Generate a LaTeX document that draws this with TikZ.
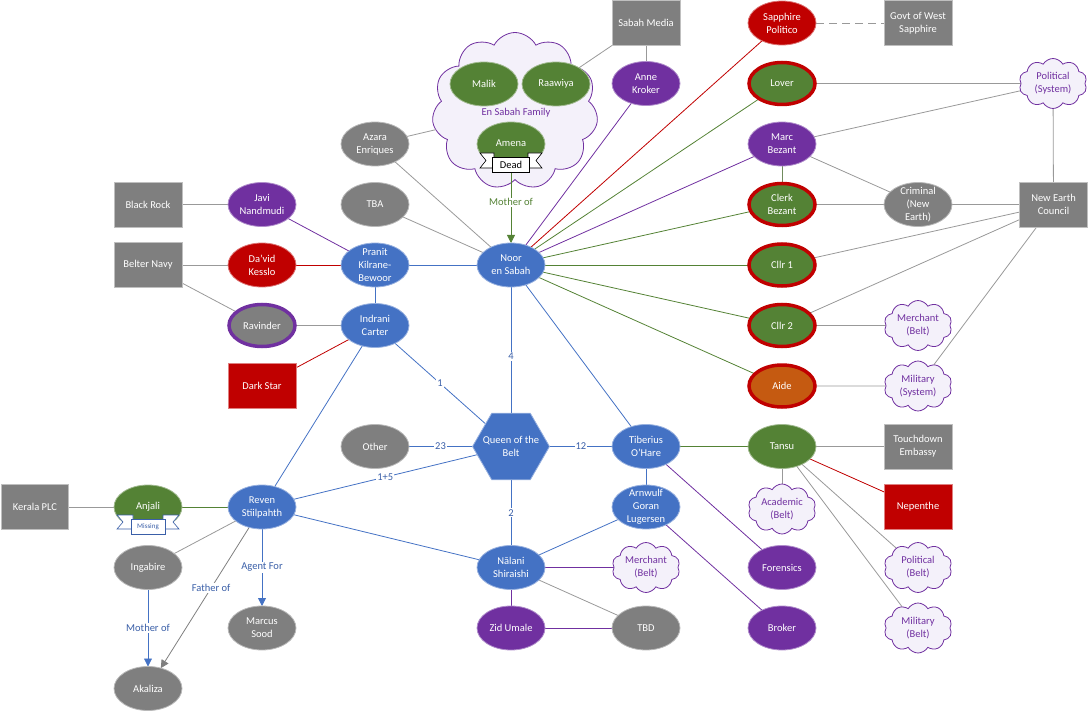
\documentclass[tikz,border=0pt]{standalone}
\usepackage{fontspec}
\setmainfont{Carlito}
\usetikzlibrary{shapes.geometric,shapes.symbols,arrows.meta}
\pgfdeclarelayer{cl}
\pgfdeclarelayer{bg}
\pgfsetlayers{cl,bg,main}
\definecolor{cblue}{HTML}{4472C4}
\definecolor{cgreen}{HTML}{548235}
\definecolor{cpurple}{HTML}{7030A0}
\definecolor{cred}{HTML}{C00000}
\definecolor{cgrey}{HTML}{7F7F7F}
\definecolor{corange}{HTML}{C55A11}
\definecolor{cedge}{HTML}{999999}
\definecolor{clab}{HTML}{3A5FA8}
\definecolor{cfill}{HTML}{F4F1FA}
\begin{document}
\begin{tikzpicture}[x=1pt,y=-1pt,font=\fontsize{10.5}{13}\selectfont,
 base/.style={minimum width=68pt,minimum height=44pt,inner sep=0pt,outer sep=0pt},
 ell/.style={base,ellipse,fill=#1,draw=#1!55!white,line width=0.8pt},
 ellr/.style={base,ellipse,fill=#1,draw=cred,line width=3.5pt,minimum width=66pt,minimum height=42pt},
 ellp/.style={base,ellipse,fill=#1,draw=cpurple,line width=3.5pt,minimum width=66pt,minimum height=42pt},
 box/.style={base,rectangle,fill=#1,draw=#1!50!white,line width=0.8pt,minimum height=45pt},
 cld/.style={cloud,cloud puffs=10,cloud puff arc=120,draw=cpurple,fill=cfill,line width=0.8pt,minimum width=68pt,minimum height=50pt,inner sep=0pt,outer sep=0pt},
 hexa/.style={regular polygon,regular polygon sides=6,minimum size=77pt,inner sep=0pt,fill=cblue,draw=cblue!55!white,line width=0.8pt},
 wt/.style={text=white,align=center},
 pt/.style={text=cpurple,align=center},
 e/.style={draw=#1,line width=0.8pt},
 lab/.style={fill=white,inner sep=1pt,text=clab},
 tip/.style={-{Triangle[length=8pt,width=8pt]}},
 rib/.style={draw=#1,fill=white,line width=0.6pt}
]
\useasboundingbox (0,0) rectangle (1089,711);
% big cloud
\begin{pgfonlayer}{cl}
\node[cld,cloud puffs=11,cloud puff arc=125,minimum width=166pt,minimum height=157pt] (family) at (515,111) {};
\end{pgfonlayer}
\node[pt] (familylabel) at (516,113) {En Sabah Family};
% left part
\node[box=cgrey,label={[wt]center:Black Rock}] (blackrock) at (148,204.5) {};
\node[ell=cpurple,label={[wt]center:{Javi\\Nandmudi}}] (javi) at (262,204.5) {};
\node[box=cgrey,label={[wt]center:Belter Navy}] (belter) at (148,265) {};
\node[ell=cred,label={[wt]center:{Da’vid\\Kesslo}}] (david) at (262,265) {};
\node[ellp=cgrey,label={[wt]center:Ravinder}] (ravinder) at (262,325.5) {};
\node[box=cred,label={[wt]center:Dark Star}] (darkstar) at (262,386) {};
\node[ell=cblue,label={[wt]center:{Pranit\\Kilrane-\\Bewoor}}] (pranit) at (375,265) {};
\node[ell=cblue,label={[wt]center:{Indrani\\Carter}}] (indrani) at (375,325.5) {};
\node[ell=cgrey,label={[wt]center:TBA}] (tba) at (375,204.5) {};
\node[ell=cgrey,label={[wt]center:{Azara\\Enriques}}] (azara) at (375,144) {};
\node[ell=cblue,label={[wt]center:{Noor\\en Sabah}}] (noor) at (511,265) {};
% family
\node[ell=cgreen,label={[wt]center:Malik}] (malik) at (484,84) {};
\node[ell=cgreen,label={[wt]center:Raawiya}] (raawiya) at (556,84) {};
\node[ell=cgreen,label={[wt,yshift=1pt]center:Amena}] (amena) at (511,144) {};
% top right
\node[box=cgrey,label={[wt]center:Sabah Media}] (sabahmedia) at (646,23) {};
\node[ell=cpurple,label={[wt]center:{Anne\\Kroker}}] (anne) at (646,83.5) {};
\node[ell=cred,label={[wt]center:{Sapphire\\Politico}}] (sapphire) at (782,23) {};
\node[box=cgrey,label={[wt]center:{Govt of West\\Sapphire}}] (govt) at (918,23) {};
\node[ellr=cgreen,label={[wt]center:Lover}] (lover) at (782,83.5) {};
\node[ell=cpurple,label={[wt]center:{Marc\\Bezant}}] (marc) at (782,144) {};
\node[ellr=cgreen,label={[wt]center:{Clerk\\Bezant}}] (clerk) at (782,204.5) {};
\node[ellr=cgreen,label={[wt]center:Cllr 1}] (cllra) at (782,265) {};
\node[ellr=cgreen,label={[wt]center:Cllr 2}] (cllrb) at (782,325.5) {};
\node[ellr=corange,label={[wt]center:Aide}] (aide) at (782,386) {};
\node[cld,label={[pt]center:{Political\\(System)}}] (polsys) at (1053,83.5) {};
\node[ell=cgrey,label={[wt]center:{Criminal\\(New\\Earth)}}] (criminal) at (918,204.5) {};
\node[box=cgrey,label={[wt]center:{New Earth\\Council}}] (nec) at (1053.5,204.5) {};
\node[cld,label={[pt]center:{Merchant\\(Belt)}}] (merchr) at (918,325.5) {};
\node[cld,label={[pt]center:{Military\\(System)}}] (milsys) at (918,386) {};
\node[box=cgrey,label={[wt]center:{Touchdown\\Embassy}}] (touchdown) at (918,446.5) {};
\node[box=cred,label={[wt]center:Nepenthe}] (nepenthe) at (918,507) {};
\node[cld,label={[pt]center:{Political\\(Belt)}}] (polbelt) at (918,567.5) {};
\node[cld,label={[pt]center:{Military\\(Belt)}}] (milbelt) at (918,628) {};
% middle
\node[hexa,label={[wt]center:{Queen of the\\Belt}}] (queen) at (511,446.5) {};
\node[ell=cgrey,label={[wt]center:Other}] (other) at (375,446.5) {};
\node[ell=cblue,label={[wt]center:{Tiberius\\O’Hare}}] (tiberius) at (646,446.5) {};
\node[ell=cgreen,label={[wt]center:Tansu}] (tansu) at (782,446.5) {};
\node[cld,label={[pt]center:{Academic\\(Belt)}}] (academic) at (782,509) {};
\node[ell=cpurple,label={[wt]center:Forensics}] (forensics) at (782,567.5) {};
\node[ell=cpurple,label={[wt]center:Broker}] (broker) at (782,628) {};
\node[ell=cblue,label={[wt]center:{Arnwulf\\Goran\\Lugersen}}] (arnwulf) at (646,507) {};
\node[cld,label={[pt]center:{Merchant\\(Belt)}}] (merchm) at (646,567.5) {};
\node[ell=cgrey,label={[wt]center:TBD}] (tbd) at (646,628) {};
\node[ell=cblue,label={[wt]center:{Nālani\\Shiraishi}}] (nalani) at (511,567.5) {};
\node[ell=cpurple,label={[wt]center:Zid Umale}] (zid) at (511,628) {};
% bottom left
\node[ell=cblue,label={[wt]center:{Reven\\Stiilpahth}}] (reven) at (262,507) {};
\node[ell=cgreen,label={[wt]center:Anjali}] (anjali) at (148,507) {};
\node[box=cgrey,minimum width=67pt,label={[wt]center:Kerala PLC}] (kerala) at (35,507) {};
\node[ell=cgrey,label={[wt]center:Ingabire}] (ingabire) at (148,567.5) {};
\node[ell=cgrey,label={[wt]center:{Marcus\\Sood}}] (marcus) at (262,628) {};
\node[ell=cgrey,label={[wt]center:Akaliza}] (akaliza) at (148,688.5) {};
% banners
\path[rib=black] (494,153) -- (480,153) -- (486,160.5) -- (480,168) -- (494,168) -- cycle;
\path[rib=black] (528,153) -- (542,153) -- (536,160.5) -- (542,168) -- (528,168) -- cycle;
\node[rib=black,minimum width=37pt,minimum height=15pt,inner sep=0pt,text=black] (dead) at (511,164.5) {Dead};
\path[rib=clab] (133,515) -- (117,515) -- (123,522) -- (117,529) -- (133,529) -- cycle;
\path[rib=clab] (163,515) -- (179,515) -- (173,522) -- (179,529) -- (163,529) -- cycle;
\node[rib=clab,minimum width=34pt,minimum height=15pt,inner sep=0pt,text=clab,font=\fontsize{7}{8}\selectfont] (missing) at (148,527) {Missing};
% edges
\begin{pgfonlayer}{bg}
\draw[e=cedge] (blackrock) -- (javi);
\draw[e=cpurple] (javi) -- (pranit);
\draw[e=cedge] (belter) -- (david);
\draw[e=cred] (david) -- (pranit);
\draw[e=cedge] (belter) -- (ravinder);
\draw[e=cedge] (ravinder) -- (indrani);
\draw[e=cred] (darkstar) -- (indrani);
\draw[e=cblue] (pranit) -- (indrani);
\draw[e=cblue] (pranit) -- (noor);
\draw[e=cedge] (tba) -- (noor);
\draw[e=cedge] (azara) -- (noor);
\draw[e=cedge] (azara) -- (family);
\draw[e=cedge] (family) -- (sabahmedia.south west);
\draw[e=cedge] (sabahmedia) -- (anne);
\draw[e=cpurple] (anne) -- (noor);
\draw[e=cred] (sapphire) -- (noor);
\draw[e=cedge,dash pattern=on 8pt off 5pt] (sapphire) -- (govt);
\draw[e=cgreen] (lover) -- (noor);
\draw[e=cpurple] (marc) -- (noor);
\draw[e=cgreen] (clerk) -- (noor);
\draw[e=cgreen] (cllra) -- (noor);
\draw[e=cgreen] (cllrb) -- (noor);
\draw[e=cgreen] (aide) -- (noor);
\draw[e=cgreen,tip] (amena) -- node[fill=white,inner sep=1pt,text=cgreen,pos=0.47]{Mother of} (noor);
\draw[e=cedge] (lover) -- (polsys);
\draw[e=cedge] (marc) -- (polsys);
\draw[e=cedge] (marc) -- (criminal);
\draw[e=cgreen!60!cedge] (marc) -- (clerk);
\draw[e=cedge] (clerk) -- (criminal);
\draw[e=cedge] (criminal) -- (nec);
\draw[e=cedge] (polsys) -- (nec);
\draw[e=cedge] (cllra) -- (nec);
\draw[e=cedge] (cllrb) -- (nec);
\draw[e=cedge] (cllrb) -- (merchr);
\draw[e=cedge] (aide) -- (milsys);
\draw[e=cedge] (milsys) -- (nec);
\draw[e=cblue] (noor) -- node[lab,pos=0.55]{4} (queen);
\draw[e=cblue] (noor) -- (tiberius);
\draw[e=cblue] (indrani) -- node[lab]{1} (queen);
\draw[e=cblue] (indrani) -- (reven);
\draw[e=cblue] (other) -- node[lab]{23} (queen);
\draw[e=cblue] (queen) -- node[lab]{12} (tiberius);
\draw[e=cblue] (reven) -- node[lab]{1+5} (queen);
\draw[e=cblue] (queen) -- node[lab]{2} (nalani);
\draw[e=cgreen] (tiberius) -- (tansu);
\draw[e=cblue] (tiberius) -- (arnwulf);
\draw[e=cpurple] (tiberius) -- (forensics);
\draw[e=cblue] (arnwulf) -- (nalani);
\draw[e=cpurple] (arnwulf) -- (broker);
\draw[e=cedge] (tansu) -- (touchdown);
\draw[e=cred] (tansu) -- (nepenthe);
\draw[e=cedge] (tansu) -- (academic);
\draw[e=cedge] (tansu) -- (polbelt);
\draw[e=cedge] (tansu) -- (milbelt);
\draw[e=cpurple] (nalani) -- (merchm);
\draw[e=cedge] (nalani) -- (tbd);
\draw[e=cpurple] (nalani) -- (zid);
\draw[e=cpurple] (zid) -- (tbd);
\draw[e=cblue] (reven) -- (nalani);
\draw[e=cgreen] (reven) -- (anjali);
\draw[e=cedge] (anjali) -- (kerala);
\draw[e=cedge] (reven) -- (ingabire);
\draw[e=cblue,tip] (reven) -- node[lab]{Agent For} (marcus);
\draw[e=cgrey,tip] (reven) -- node[lab,pos=0.43]{Father of} (akaliza);
\draw[e=cblue,tip] (ingabire) -- node[lab]{Mother of} (akaliza);
\end{pgfonlayer}
\end{tikzpicture}
\end{document}
